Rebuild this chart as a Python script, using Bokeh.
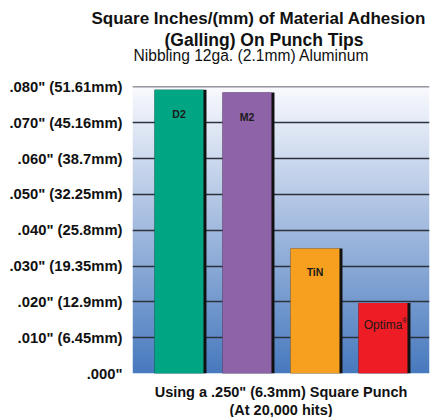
import numpy as np
from bokeh.plotting import figure
from bokeh.models import ColumnDataSource, FixedTicker, Range1d, Title
from bokeh.core.properties import value
from bokeh.embed import file_html
from bokeh.resources import INLINE

# ---- data ----
materials = ["D2", "M2", "TiN", "Optima"]
label_marks = ["", "", "", "®"]
adhesion_in = [0.0792, 0.0784, 0.0349, 0.0197]
bar_colors = ["#00a683", "#8e63a8", "#f7a01f", "#ee1c25"]
tick_values = [0.0, 0.01, 0.02, 0.03, 0.04, 0.05, 0.06, 0.07, 0.08]
tick_labels = ['.000"', '.010" (6.45mm)', '.020" (12.9mm)', '.030" (19.35mm)',
               '.040" (25.8mm)', '.050" (32.25mm)', '.060" (38.7mm)',
               '.070" (45.16mm)', '.080" (51.61mm)']
title_lines = ["Square Inches/(mm) of Material Adhesion", "(Galling) On Punch Tips"]
subtitle = "Nibbling 12ga. (2.1mm) Aluminum"
xlabel_lines = ['Using a .250" (6.3mm) Square Punch', "(At 20,000 hits)"]

FONT = "Liberation Sans"

x_pos = list(range(1, len(materials) + 1))
BAR_W = 0.72
SHADOW = 0.044

src = ColumnDataSource(dict(
    x=x_pos,
    xs=[v + SHADOW / 2 for v in x_pos],
    top=adhesion_in,
    color=bar_colors,
    label=materials,
    mark=label_marks,
    fstyle=["bold", "bold", "bold", "normal"],
    fsize=["10.5px", "10.5px", "10.5px", "12px"],
    yoff=[24, 24, 24, 22],
))

x0, x1 = 0.316, 4.684
y0, y1 = 0.0, 0.0801

p = figure(width=432, height=417, output_backend="svg", toolbar_location=None,
           x_range=Range1d(x0, x1), y_range=Range1d(y0, y1),
           min_border_left=132, min_border_right=3, min_border_top=86,
           min_border_bottom=40)
p.outline_line_color = None
p.background_fill_color = "white"
p.border_fill_color = "white"
p.title.visible = False

# gradient background (white top -> blue bottom)
n = 300
t = np.linspace(0, 1, n)  # 0 = bottom, 1 = top
top_c = np.array([250, 250, 254])
bot_c = np.array([72, 122, 190])
cols = (bot_c[None, :] * (1 - t[:, None]) + top_c[None, :] * t[:, None]).astype(np.uint32)
img = np.zeros((n, 1), dtype=np.uint32)
view = img.view(dtype=np.uint8).reshape((n, 1, 4))
view[:, 0, 0] = cols[:, 0]
view[:, 0, 1] = cols[:, 1]
view[:, 0, 2] = cols[:, 2]
view[:, 0, 3] = 255
bg = p.image_rgba(image=[img], x=x0, y=y0, dw=x1 - x0, dh=y1 - y0)
bg.level = "image"

# bars with dark right edge
p.vbar(x="xs", width=BAR_W + SHADOW, top="top", bottom=0, source=src,
       fill_color="#111111", line_color=None)
p.vbar(x="x", width=BAR_W, top="top", bottom=0, source=src,
       fill_color="color", line_color=None)

p.text(x="x", y="top", text="label", source=src, y_offset="yoff",
       text_align="center", text_baseline="middle",
       text_font=value(FONT), text_font_size="fsize", text_font_style="fstyle",
       text_color="#1a1a1a")
p.text(x="x", y="top", text="mark", source=src, y_offset=18, x_offset=19,
       text_align="left", text_baseline="middle",
       text_font=value(FONT), text_font_size="7px", text_color="#1a1a1a")

# axes
p.xaxis.visible = False
p.yaxis.ticker = FixedTicker(ticks=tick_values)
p.yaxis.major_label_overrides = {v: l for v, l in zip(tick_values, tick_labels)}
p.yaxis.axis_line_color = None
p.yaxis.major_tick_line_color = None
p.yaxis.minor_tick_line_color = None
p.yaxis.major_tick_out = 0
p.yaxis.major_tick_in = 0
p.yaxis.major_label_standoff = 10
p.yaxis.major_label_text_font = FONT
p.yaxis.major_label_text_font_size = "14.8px"
p.yaxis.major_label_text_font_style = "bold"
p.yaxis.major_label_text_color = "#111111"

p.xgrid.visible = False
p.ygrid.ticker = FixedTicker(ticks=tick_values)
p.ygrid.grid_line_color = "#2c323c"
p.ygrid.grid_line_width = 1.5

def mk_title(txt, size, style, standoff, align="left", offset=0):
    return Title(text=txt, align=align, offset=offset, standoff=standoff,
                 text_font=FONT, text_font_size=size, text_font_style=style,
                 text_color="#111111")

# above panels stack outward from the frame
p.add_layout(mk_title(" ", "1px", "normal", 25), "above")          # spacer
p.add_layout(mk_title(subtitle, "15.6px", "normal", -10, offset=1), "above")
p.add_layout(mk_title(title_lines[1], "17.5px", "bold", 0, offset=32), "above")
p.add_layout(mk_title(title_lines[0], "17px", "bold", 0, offset=-41), "above")

# below panels stack outward from the frame
p.add_layout(mk_title(" ", "1px", "normal", 5), "below")           # spacer
p.add_layout(mk_title(xlabel_lines[0], "14.5px", "bold", 0, align="center"), "below")
p.add_layout(mk_title(xlabel_lines[1], "14.5px", "bold", 0, align="center"), "below")

open("out.html", "w").write(file_html(p, INLINE))
